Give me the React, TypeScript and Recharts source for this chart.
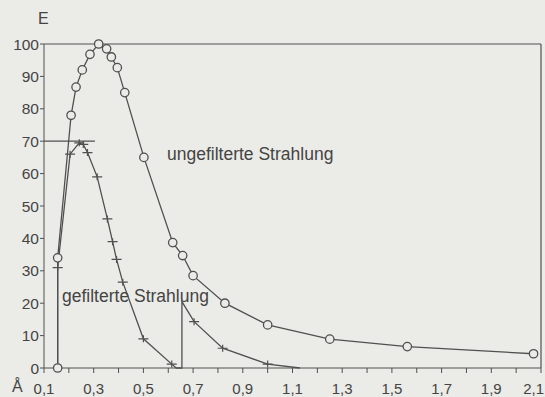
import React from 'react';
import { LineChart, Line, XAxis, YAxis, ReferenceLine } from 'recharts';

// Wavelength (Å) and intensity E
const unfilteredX = [0.155, 0.155, 0.209, 0.229, 0.254, 0.285, 0.32, 0.352, 0.371, 0.395, 0.425, 0.502, 0.618, 0.658, 0.7, 0.828, 1.0, 1.25, 1.562, 2.07];
const unfilteredE = [0, 34, 78, 86.7, 92, 96.8, 100, 98.5, 96, 92.7, 85, 65, 38.7, 34.7, 28.5, 20, 13.3, 8.9, 6.6, 4.4];

const filteredX = [0.155, 0.155, 0.205, 0.242, 0.258, 0.275, 0.314, 0.355, 0.376, 0.392, 0.417, 0.5, 0.614, 0.632, 0.655, 0.655, 0.704, 0.819, 1.0, 1.13];
const filteredE = [0, 31, 66, 69.5, 69, 66.5, 59, 46, 39, 33.5, 26.5, 9, 1.2, 0, 0, 20.5, 14.3, 6.1, 1.2, 0];
const filteredMarked = [false, true, true, true, true, true, true, true, true, true, true, true, true, false, false, false, true, true, true, false];

const xTicks = [0.1, 0.2, 0.3, 0.4, 0.5, 0.6, 0.7, 0.8, 0.9, 1.0, 1.1, 1.2, 1.3, 1.4, 1.5, 1.6, 1.7, 1.8, 1.9, 2.0, 2.1];
const xTickLabels = ['0,1', '', '0,3', '', '0,5', '', '0,7', '', '0,9', '', '1,1', '', '1,3', '', '1,5', '', '1,7', '', '1,9', '', '2,1'];
const yTicks = [0, 10, 20, 30, 40, 50, 60, 70, 80, 90, 100];

const unfilteredData = unfilteredX.map((x, i) => ({ x, e: unfilteredE[i] }));
const filteredData = filteredX.map((x, i) => ({ x, e: filteredE[i], m: filteredMarked[i] }));

const INK = '#505050';
const TEXT = '#444';
const BG = '#ebebe7';
const FONT = '"Liberation Sans", Arial, Helvetica, sans-serif';

const CircleDot = (props: any) => {
  const { cx, cy, index } = props;
  return <circle key={'c' + index} cx={cx} cy={cy} r={4.2} fill={BG} stroke={INK} strokeWidth={1.3} />;
};

const PlusDot = (props: any) => {
  const { cx, cy, index, payload } = props;
  if (!payload || !payload.m) return <g key={'p' + index} />;
  return (
    <path
      key={'p' + index}
      d={`M${cx - 5},${cy}H${cx + 5}M${cx},${cy - 3.5}V${cy + 3.5}`}
      stroke={INK}
      strokeWidth={1.2}
      fill="none"
    />
  );
};

const XTick = (props: any) => {
  const { x, y, payload, index } = props;
  const i = xTicks.findIndex((t) => Math.abs(t - payload.value) < 1e-6);
  const label = i >= 0 ? xTickLabels[i] : '';
  if (!label) return <g key={'t' + index} />;
  const last = i === xTicks.length - 1;
  return (
    <text
      key={'t' + index}
      x={last ? x + 3 : x}
      y={y}
      dy="0.71em"
      textAnchor={last ? 'end' : 'middle'}
      fontSize={15}
      fontFamily={FONT}
      fill={TEXT}
    >
      {label}
    </text>
  );
};

export default function App() {
  const tickStyle = { fill: TEXT, fontSize: 15.5, fontFamily: FONT };
  return (
    <div style={{ position: 'absolute', left: 0, top: 0, width: 545, height: 397, background: BG, overflow: 'hidden' }}>
      <LineChart width={545} height={397} margin={{ top: 44, right: 4, bottom: 0, left: 0 }}>
        <XAxis
          type="number"
          dataKey="x"
          domain={[0.1, 2.1]}
          ticks={xTicks}
          interval={0}
          allowDataOverflow
          height={29}
          tickSize={5}
          tickMargin={10}
          stroke={INK}
          tick={XTick}
        />
        <YAxis
          type="number"
          domain={[0, 100]}
          ticks={yTicks}
          interval={0}
          width={44}
          tickSize={4}
          tickMargin={1}
          stroke={INK}
          tick={tickStyle}
        />
        <ReferenceLine y={100} stroke={INK} strokeWidth={1.2} />
        <ReferenceLine x={2.1} stroke={INK} strokeWidth={1.2} />
        <ReferenceLine segment={[{ x: 0.1, y: 70 }, { x: 0.305, y: 70 }]} stroke={INK} strokeWidth={1.2} />
        <Line
          data={unfilteredData}
          dataKey="e"
          type="linear"
          stroke={INK}
          strokeWidth={1.3}
          dot={CircleDot}
          activeDot={false}
          isAnimationActive={false}
        />
        <Line
          data={filteredData}
          dataKey="e"
          type="linear"
          stroke={INK}
          strokeWidth={1.3}
          dot={PlusDot}
          activeDot={false}
          isAnimationActive={false}
        />
        <text x={38} y={24} fontSize={16} fontFamily={FONT} fill={TEXT}>E</text>
        <text x={12} y={392} fontSize={16} fontFamily={FONT} fill={TEXT}>Å</text>
        <text x={167} y={160} fontSize={17.5} fontFamily={FONT} fill={TEXT}>ungefilterte Strahlung</text>
        <text x={62} y={302} fontSize={17.5} fontFamily={FONT} fill={TEXT}>gefilterte Strahlung</text>
      </LineChart>
    </div>
  );
}
